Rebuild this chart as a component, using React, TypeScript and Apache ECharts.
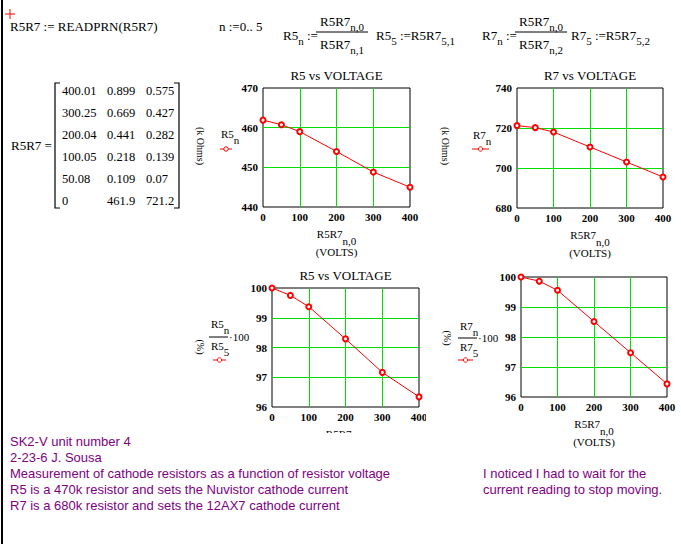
import React, { useEffect, useRef } from 'react';
import * as echarts from 'echarts';

// ---- data (read from the worksheet) ----
const matVolts = [400.01, 300.25, 200.04, 100.05, 50.08, 0];
const matColR5 = [0.899, 0.669, 0.441, 0.218, 0.109, 461.9];
const matColR7 = [0.575, 0.427, 0.282, 0.139, 0.07, 721.2];
// plotted resistances (k Ohms), same order as matVolts
const r5Plot = [445.0, 448.8, 454.0, 459.0, 460.75, 461.9];
const r7Plot = [695.5, 703.0, 710.5, 718.0, 720.2, 721.2];
// axis ranges [min, max, interval]
const voltRange = [0, 400, 100];
const r5Range = [440, 470, 10];
const r7Range = [680, 740, 20];
const pctRange = [96, 100, 1];

const notesLeft = [
  'SK2-V unit number 4',
  '2-23-6 J. Sousa',
  'Measurement of cathode resistors as a function of resistor voltage',
  'R5 is a 470k resistor and sets the Nuvistor cathode current',
  'R7 is a 680k resistor and sets the 12AX7 cathode current',
];
const notesRight = ['I noticed I had to wait for the', 'current reading to stop moving.'];

const SERIF = '"Liberation Serif", "Times New Roman", serif';
const SANS = '"Liberation Sans", Arial, sans-serif';
const GREEN = '#00e000';
const RED = '#ff0000';
const PURPLE = '#800080';

let ctx: CanvasRenderingContext2D | null = null;
function mw(t: string, size: number, family = SERIF, weight = 'normal') {
  if (!ctx) ctx = document.createElement('canvas').getContext('2d');
  ctx!.font = `${weight} ${size}px ${family}`;
  return ctx!.measureText(t).width;
}

function txt(text: string, x: number, y: number, o: any = {}) {
  return {
    type: 'text',
    x,
    y,
    rotation: o.rotation || 0,
    z: o.z ?? 100,
    style: {
      text,
      fontFamily: o.family || SERIF,
      fontSize: o.size || 13,
      fontWeight: o.weight || 'normal',
      fill: o.color || '#000',
      align: o.align || 'left',
      verticalAlign: 'middle',
    },
  };
}

function math(x: number, y: number, parts: [string, number?][], size = 13, subSize = 11, subDy = 6) {
  const els: any[] = [];
  let cx = x;
  for (const [t, s] of parts) {
    const sz = s ? subSize : size;
    els.push(txt(t, cx, s ? y + subDy : y, { size: sz }));
    cx += mw(t, sz);
  }
  return els;
}
function mathWidth(parts: [string, number?][], size = 13, subSize = 11) {
  return parts.reduce((a, [t, s]) => a + mw(t, s ? subSize : size), 0);
}
function mathC(cx: number, y: number, parts: [string, number?][], size = 13, subSize = 11, subDy = 6) {
  return math(cx - mathWidth(parts, size, subSize) / 2, y, parts, size, subSize, subDy);
}

function hline(x1: number, x2: number, y: number, color = '#000', w = 1) {
  return { type: 'line', z: 100, shape: { x1, y1: y, x2, y2: y }, style: { stroke: color, lineWidth: w } };
}
function legendMark(x1: number, x2: number, y: number) {
  return [
    hline(x1, x2, y, RED, 1),
    { type: 'circle', z: 101, shape: { cx: (x1 + x2) / 2, cy: y, r: 2.2 }, style: { stroke: RED, fill: '#fff', lineWidth: 1 } },
  ];
}

const grids = [
  { left: 263, top: 88, width: 147, height: 119 },
  { left: 517, top: 88, width: 146, height: 120 },
  { left: 272, top: 288, width: 147, height: 119 },
  { left: 521, top: 277, width: 146, height: 120 },
];

export default function App() {
  const ref = useRef<HTMLDivElement>(null);
  useEffect(() => {
    const chart = echarts.init(ref.current!, null, { renderer: 'svg' });
    const pts = (ys: number[]) => matVolts.map((v, i) => [v, ys[i]]);
    const r5Ref = r5Plot[r5Plot.length - 1];
    const r7Ref = r7Plot[r7Plot.length - 1];
    const r5Pct = r5Plot.map((v) => (v / r5Ref) * 100);
    const r7Pct = r7Plot.map((v) => (v / r7Ref) * 100);

    const xAx = (gi: number) => ({
      type: 'value',
      gridIndex: gi,
      min: voltRange[0],
      max: voltRange[1],
      interval: voltRange[2],
      axisLine: { show: false },
      axisTick: { show: false },
      axisLabel: { margin: 4, fontFamily: SERIF, fontSize: 11, fontWeight: 'bold', color: '#000' },
      splitLine: { show: true, showMinLine: false, showMaxLine: false, lineStyle: { color: GREEN, width: 1 } },
    });
    const yAx = (gi: number, r: number[]) => ({
      type: 'value',
      gridIndex: gi,
      min: r[0],
      max: r[1],
      interval: r[2],
      axisLine: { show: false },
      axisTick: { show: false },
      axisLabel: { margin: 5, fontFamily: SERIF, fontSize: 11, fontWeight: 'bold', color: '#000' },
      splitLine: { show: true, showMinLine: false, showMaxLine: false, lineStyle: { color: GREEN, width: 1 } },
    });
    const ser = (gi: number, data: number[][]) => ({
      type: 'line',
      xAxisIndex: gi,
      yAxisIndex: gi,
      data,
      symbol: 'emptyCircle',
      symbolSize: 5,
      showAllSymbol: true,
      clip: true,
      lineStyle: { color: RED, width: 1 },
      itemStyle: { color: RED, borderColor: RED, borderWidth: 1 },
      z: 5,
    });

    const g: any[] = [];
    // left border
    g.push({ type: 'rect', z: 100, shape: { x: 1, y: 0, width: 2, height: 544 }, style: { fill: '#000' } });
    // red cursor
    g.push(hline(5, 15, 14, RED, 1));
    g.push({ type: 'line', z: 100, shape: { x1: 10, y1: 9, x2: 10, y2: 19 }, style: { stroke: RED, lineWidth: 1 } });

    // top formulas
    g.push(...math(10, 26, [['R5R7 := READPRN(R5R7)']]));
    g.push(...math(219, 26, [['n :=0.. 5']]));
    g.push(...math(283, 35, [['R5'], ['n', 1], [' :=']]));
    g.push(...mathC(342, 21, [['R5R7'], ['n,0', 1]]));
    g.push(hline(316, 368, 32));
    g.push(...mathC(342, 44, [['R5R7'], ['n,1', 1]]));
    g.push(...math(376, 35, [['R5'], ['5', 1], [' :=R5R7'], ['5,1', 1]]));
    g.push(...math(482, 35, [['R7'], ['n', 1], [' :=']]));
    g.push(...mathC(541, 21, [['R5R7'], ['n,0', 1]]));
    g.push(hline(515, 567, 32));
    g.push(...mathC(541, 44, [['R5R7'], ['n,2', 1]]));
    g.push(...math(571, 35, [['R7'], ['5', 1], [' :=R5R7'], ['5,2', 1]]));

    // matrix
    g.push(txt('R5R7 =', 11, 145, { size: 13 }));
    g.push({ type: 'polyline', z: 100, shape: { points: [[60, 83], [55, 83], [55, 208], [60, 208]] }, style: { stroke: '#000', fill: 'none', lineWidth: 1.2 } });
    g.push({ type: 'polyline', z: 100, shape: { points: [[174, 83], [179, 83], [179, 208], [174, 208]] }, style: { stroke: '#000', fill: 'none', lineWidth: 1.2 } });
    matVolts.forEach((v, i) => {
      const y = 91 + i * 22;
      g.push(txt(String(v), 62, y, { size: 12.5 }));
      g.push(txt(String(matColR5[i]), 107, y, { size: 12.5 }));
      g.push(txt(String(matColR7[i]), 146, y, { size: 12.5 }));
    });

    // plot titles
    const titles = ['R5 vs VOLTAGE', 'R7 vs VOLTAGE', 'R5 vs VOLTAGE', ''];
    grids.forEach((gr, i) => {
      if (titles[i]) g.push(txt(titles[i], gr.left + gr.width / 2, gr.top - 13, { size: 13, align: 'center' }));
    });
    // x axis names
    [0, 1, 3, 2].forEach((i) => {
      const gr = grids[i];
      const cx = gr.left + gr.width / 2;
      const y0 = gr.top + gr.height + 27;
      g.push(...mathC(cx, y0, [['R5R7'], ['n,0', 1]], 11, 11, 7));
      g.push(txt('(VOLTS)', cx, y0 + 18, { size: 11, align: 'center' }));
    });

    // y labels/legends
    g.push(txt('(k Ohms)', 200, 146, { size: 10, rotation: -Math.PI / 2, align: 'center' }));
    g.push(...math(221, 134, [['R5'], ['n', 1]], 11, 11, 6));
    g.push(...legendMark(220, 232, 149));
    g.push(txt('(k Ohms)', 445, 146, { size: 10, rotation: -Math.PI / 2, align: 'center' }));
    g.push(...math(473, 135, [['R7'], ['n', 1]], 11, 11, 6));
    g.push(...legendMark(472, 489, 149));

    g.push(txt('(%)', 200, 347, { size: 10, rotation: -Math.PI / 2, align: 'center' }));
    g.push(...math(211, 324, [['R5'], ['n', 1]], 11, 11, 6));
    g.push(hline(209, 228, 337));
    g.push(...math(211, 346, [['R5'], ['5', 1]], 11, 11, 6));
    g.push(txt('·100', 229, 337, { size: 11 }));
    g.push(...legendMark(213, 226, 360));

    g.push(txt('(%)', 447, 338, { size: 10, rotation: -Math.PI / 2, align: 'center' }));
    g.push(...math(460, 326, [['R7'], ['n', 1]], 11, 11, 6));
    g.push(hline(458, 477, 338));
    g.push(...math(460, 347, [['R7'], ['5', 1]], 11, 11, 6));
    g.push(txt('·100', 478, 338, { size: 11 }));
    g.push(...legendMark(458, 473, 360));

    // white masks (region boundaries)
    g.push({ type: 'rect', z: 150, shape: { x: 230, y: 433, width: 200, height: 30 }, style: { fill: '#fff' } });
    g.push({ type: 'rect', z: 150, shape: { x: 426, y: 409, width: 12, height: 14 }, style: { fill: '#fff' } });

    // notes
    notesLeft.forEach((t, i) => g.push(txt(t, 10, 441 + i * 16.1, { family: SANS, size: 13, color: PURPLE, z: 200 })));
    notesRight.forEach((t, i) => g.push(txt(t, 483, 473 + i * 16.1, { family: SANS, size: 13, color: PURPLE, z: 200 })));

    chart.setOption({
      animation: false,
      backgroundColor: '#fff',
      grid: grids.map((gr) => ({ ...gr, show: true, borderColor: '#000', borderWidth: 1, backgroundColor: 'transparent', containLabel: false })),
      xAxis: [0, 1, 2, 3].map(xAx),
      yAxis: [yAx(0, r5Range), yAx(1, r7Range), yAx(2, pctRange), yAx(3, pctRange)],
      series: [ser(0, pts(r5Plot)), ser(1, pts(r7Plot)), ser(2, pts(r5Pct)), ser(3, pts(r7Pct))],
      graphic: g,
    });
    return () => chart.dispose();
  }, []);
  return <div ref={ref} style={{ position: 'fixed', left: 0, top: 0, width: 681, height: 544 }} />;
}
